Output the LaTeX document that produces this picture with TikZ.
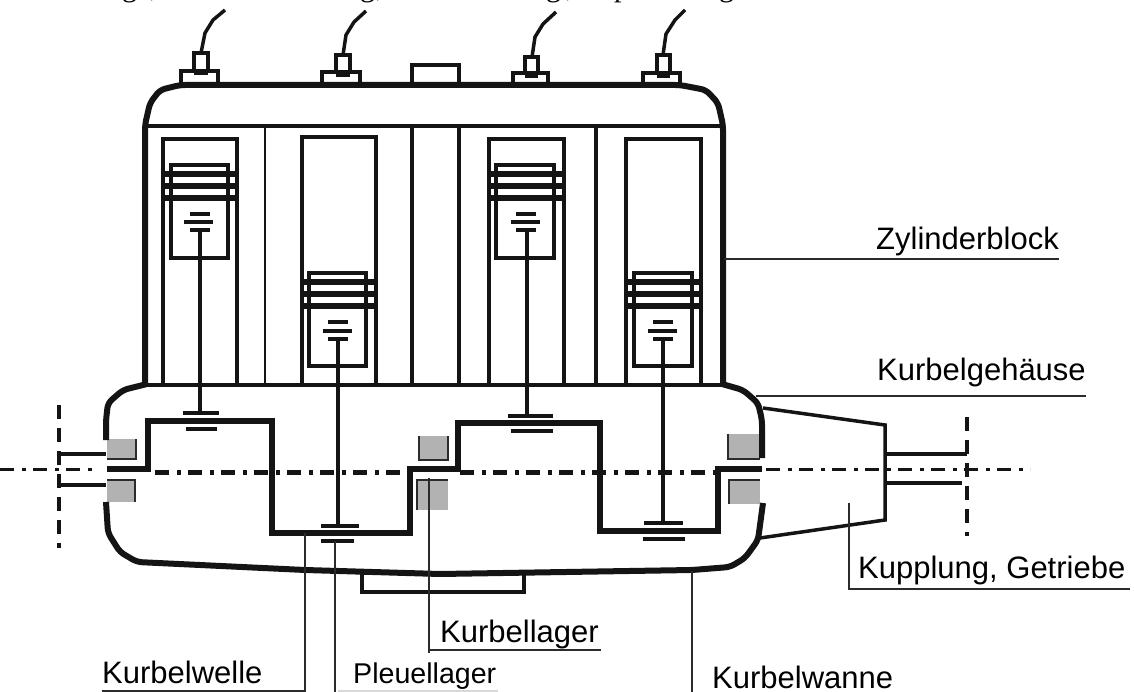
\documentclass[tikz,border=0pt]{standalone}
\usepackage{fontspec}
\setmainfont{Liberation Sans}
\newfontfamily\serifcut{Liberation Serif}
\definecolor{inkblack}{HTML}{141414}
\definecolor{leadergray}{HTML}{2B2B2B}
\definecolor{bearinggray}{HTML}{B2B2B2}
\definecolor{faintgray}{HTML}{D8D8D8}
\tikzset{
	wall/.style={draw=inkblack,line width=6pt,line join=round,rounded corners=5pt},
	shaft/.style={draw=inkblack,line width=6pt,line join=miter},
	part/.style={draw=inkblack,line width=3.5pt},
	ring/.style={draw=inkblack,line width=6pt},
	fine/.style={draw=inkblack,line width=2pt},
	leader/.style={draw=leadergray,line width=2.2pt},
	faint/.style={draw=faintgray,line width=1.2pt},
	bearing/.style={fill=bearinggray},
	bearingedge/.style={draw=leadergray,line width=2pt},
	centerthick/.style={draw=inkblack,line width=5pt,dash pattern={on 14pt off 8pt on 4pt off 7pt}},
	centerthin/.style={draw=inkblack,line width=3pt,dash pattern={on 14pt off 8pt on 4pt off 7pt}},
	flange/.style={draw=inkblack,line width=4pt,dash pattern={on 14pt off 9pt}},
	labeltext/.style={anchor=base west,inner sep=0pt,font=\fontsize{31}{31}\selectfont},
	cuttext/.style={anchor=base west,inner sep=0pt,font=\serifcut\fontsize{30}{30}\selectfont}
}
\begin{document}
\begin{tikzpicture}[x=1pt,y=1pt,yscale=-1,xscale=1]
	\useasboundingbox (0,0) rectangle (1134,692);
	%Text cut off by the page edge
	\begin{scope}
		\clip (0,0) rectangle (1134,8);
		% Text Node
		\draw (122,-3) node (cutg1) [cuttext] {g};
		\draw (150,-3) node (cutc1) [cuttext] {,};
		\draw (360,-3) node (cutg2) [cuttext] {g};
		\draw (376,-3) node (cutc2) [cuttext] {,};
		\draw (546,-3) node (cutg3) [cuttext] {g};
		\draw (566,-3) node (cutc3) [cuttext] {,};
		\draw (614,-3) node (cutp) [cuttext] {p};
		\draw (719,-3) node (cutg4) [cuttext] {g};
	\end{scope}

	%Shape: Bearings
	\fill [bearing] (107,439) rectangle (136,459);
	\fill [bearing] (107,480) rectangle (135,502);
	\fill [bearing] (419,436) rectangle (448,460);
	\fill [bearing] (417,480) rectangle (448,510);
	\fill [bearing] (728,434) rectangle (760,459);
	\fill [bearing] (729,480) rectangle (760,504);
	\draw [bearingedge] (136,439) -- (136,459) -- (107,459);
	\draw [bearingedge] (107,480) -- (135,480) -- (135,502);
	\draw [bearingedge] (419,436) -- (419,460) -- (448,460) -- (448,436);
	\draw [bearingedge] (417,510) -- (417,480) -- (448,480);
	\draw [bearingedge] (728,434) -- (728,459) -- (760,459);
	\draw [bearingedge] (729,504) -- (729,480) -- (760,480);

	%Shape: Cylinder block
	\draw [wall] (145,385) -- (145,125) -- (150,103) -- (160,90) -- (180,85) -- (680,85) -- (706,90) -- (718,103) -- (723,125) -- (723,385);
	\draw [part] (148,126) -- (721,126);
	\draw [part] (146,385) -- (722,385);
	\draw [fine] (265,126) -- (265,385);
	\draw [part] (412,126) -- (412,385);
	\draw [part] (459,126) -- (459,385);
	\draw [part] (596,126) -- (596,385);

	%Shape: Sensors on top
	\draw [part] (181,85) -- (181,71) -- (218,71) -- (218,85);
	\draw [part] (194,71) -- (194,53) -- (208,53) -- (208,71);
	\draw [ring] (194,72) -- (208,72);
	\draw [part] (201,53) -- (205,33) -- (213,20) -- (225,10);
	\draw [part] (322,85) -- (322,72) -- (360,72) -- (360,85);
	\draw [part] (336,72) -- (336,55) -- (350,55) -- (350,72);
	\draw [ring] (336,74) -- (350,74);
	\draw [part] (343,55) -- (346,35) -- (354,22) -- (366,11);
	\draw [part] (412,85) -- (412,65) -- (459,65) -- (459,85);
	\draw [part] (513,85) -- (513,73) -- (548,73) -- (548,85);
	\draw [part] (525,73) -- (525,57) -- (538,57) -- (538,73);
	\draw [ring] (525,75) -- (538,75);
	\draw [part] (532,57) -- (535,37) -- (543,24) -- (556,12);
	\draw [part] (643,85) -- (643,73) -- (680,73) -- (680,85);
	\draw [part] (657,73) -- (657,55) -- (670,55) -- (670,73);
	\draw [ring] (657,75) -- (670,75);
	\draw [part] (663,55) -- (666,34) -- (675,20) -- (685,10);

	%Shape: Cylinder 1
	\draw [part] (163,385) -- (163,139) -- (237,139) -- (237,385);
	\draw [part] (171,165) rectangle (228,258);
	\draw [ring] (163,174) -- (237,174);
	\draw [ring] (163,186) -- (237,186);
	\draw [ring] (163,198) -- (237,198);
	\draw [part] (190,214) -- (210,214);
	\draw [part] (184,222) -- (213,222);
	\draw [part] (190,230) -- (210,230);
	\draw [part] (200,230) -- (200,413);
	\draw [part] (183,413) -- (219,413);
	\draw [part] (186,429) -- (217,429);

	%Shape: Cylinder 2
	\draw [part] (302,385) -- (302,137) -- (376,137) -- (376,385);
	\draw [part] (309,273) rectangle (366,366);
	\draw [ring] (302,282) -- (376,282);
	\draw [ring] (302,294) -- (376,294);
	\draw [ring] (302,306) -- (376,306);
	\draw [part] (328,322) -- (348,322);
	\draw [part] (323,331) -- (352,331);
	\draw [part] (328,339) -- (348,339);
	\draw [part] (338,339) -- (338,526);
	\draw [part] (321,526) -- (359,526);
	\draw [part] (321,541) -- (354,541);

	%Shape: Cylinder 3
	\draw [part] (489,385) -- (489,139) -- (564,139) -- (564,385);
	\draw [part] (496,165) rectangle (554,258);
	\draw [ring] (489,174) -- (564,174);
	\draw [ring] (489,186) -- (564,186);
	\draw [ring] (489,198) -- (564,198);
	\draw [part] (516,214) -- (536,214);
	\draw [part] (511,222) -- (540,222);
	\draw [part] (516,230) -- (536,230);
	\draw [part] (527,230) -- (527,416);
	\draw [part] (508,416) -- (553,416);
	\draw [part] (511,431) -- (553,431);

	%Shape: Cylinder 4
	\draw [part] (626,385) -- (626,139) -- (701,139) -- (701,385);
	\draw [part] (634,273) rectangle (692,366);
	\draw [ring] (626,282) -- (701,282);
	\draw [ring] (626,294) -- (701,294);
	\draw [ring] (626,306) -- (701,306);
	\draw [part] (653,322) -- (673,322);
	\draw [part] (648,331) -- (677,331);
	\draw [part] (653,339) -- (673,339);
	\draw [part] (663,339) -- (663,523);
	\draw [part] (644,523) -- (683,523);
	\draw [part] (643,539) -- (685,539);

	%Shape: Crankcase
	\draw [wall] (147,384) -- (123,390) -- (108,403) -- (106,420) -- (106,440);
	\draw [wall] (106,502) -- (108,533) -- (120,552) -- (137,562) -- (305,570) -- (440,574) -- (692,570) -- (730,567) -- (745,558) -- (758,540) -- (763,503);
	\draw [wall] (722,384) -- (743,390) -- (758,403) -- (762,420) -- (762,458);
	\draw [part] (362,572) -- (362,592) -- (524,592) -- (524,573);

	%Shape: Gearbox
	\draw [part] (763,408) -- (885,425) -- (885,520) -- (760,538);
	\draw [part] (887,454) -- (967,454);
	\draw [part] (887,483) -- (962,483);
	\draw [part] (59,454) -- (106,454);
	\draw [part] (59,485) -- (106,485);
	\draw [flange] (59,405) -- (59,548);
	\draw [flange] (967,417) -- (967,536);

	%Straight Lines
	\draw [shaft] (107,469) -- (148,469) -- (148,421) -- (272,421) -- (272,533) -- (410,533) -- (410,469) -- (458,469) -- (458,423) -- (600,423) -- (600,531) -- (718,531) -- (718,469) -- (762,469);
	\draw [centerthick] (155,472) -- (410,472);
	\draw [centerthick] (460,472) -- (716,472);
	\draw [centerthin] (0,469) -- (93,469);
	\draw [centerthin] (766,469) -- (1030,469);

	% Text Node
	\draw (876,250) node (zylinderblock) [labeltext] {Zylinderblock};
	% Text Node
	\draw (877,380) node (kurbelgehaeuse) [labeltext] {Kurbelgehäuse};
	% Text Node
	\draw (858,578) node (kupplung) [labeltext] {Kupplung, Getriebe};
	% Text Node
	\draw (440,642) node (kurbellager) [labeltext] {Kurbellager};
	% Text Node
	\draw (102,683) node (kurbelwelle) [labeltext] {Kurbelwelle};
	% Text Node
	\draw (353,683) node (pleuellager) [labeltext,font=\fontsize{28.6}{29}\selectfont] {Pleuellager};
	% Text Node
	\draw (712,688) node (kurbelwanne) [labeltext] {Kurbelwanne};

	%Leader ends
	\coordinate (blockwall) at (724,259);
	\coordinate (blockend) at (1059,259);
	\coordinate (casewall) at (756,396);
	\coordinate (caseend) at (1086,396);
	\coordinate (boxinside) at (849,503);
	\coordinate (boxcorner) at (849,589);
	\coordinate (boxend) at (1130,589);
	\coordinate (mainbearing) at (429,478);
	\coordinate (mainfoot) at (429,653);
	\coordinate (mainstart) at (429,650);
	\coordinate (mainend) at (601,650);
	\coordinate (crankweb) at (305,533);
	\coordinate (crankcorner) at (305,691);
	\coordinate (crankend) at (102,691);
	\coordinate (pinlower) at (335,541);
	\coordinate (pinfoot) at (335,692);
	\coordinate (pinstart) at (338,691);
	\coordinate (pinend) at (498,691);
	\coordinate (panedge) at (692,571);
	\coordinate (panfoot) at (692,692);

	%Straight Lines
	\draw [leader] (blockwall) -- (blockend);
	\draw [leader] (casewall) -- (caseend);
	\draw [leader] (boxinside) -- (boxcorner) -- (boxend);
	\draw [leader] (mainbearing) -- (mainfoot);
	\draw [leader] (mainstart) -- (mainend);
	\draw [leader] (crankweb) -- (crankcorner) -- (crankend);
	\draw [leader] (pinlower) -- (pinfoot);
	\draw [faint] (pinstart) -- (pinend);
	\draw [leader] (panedge) -- (panfoot);
\end{tikzpicture}
\end{document}
